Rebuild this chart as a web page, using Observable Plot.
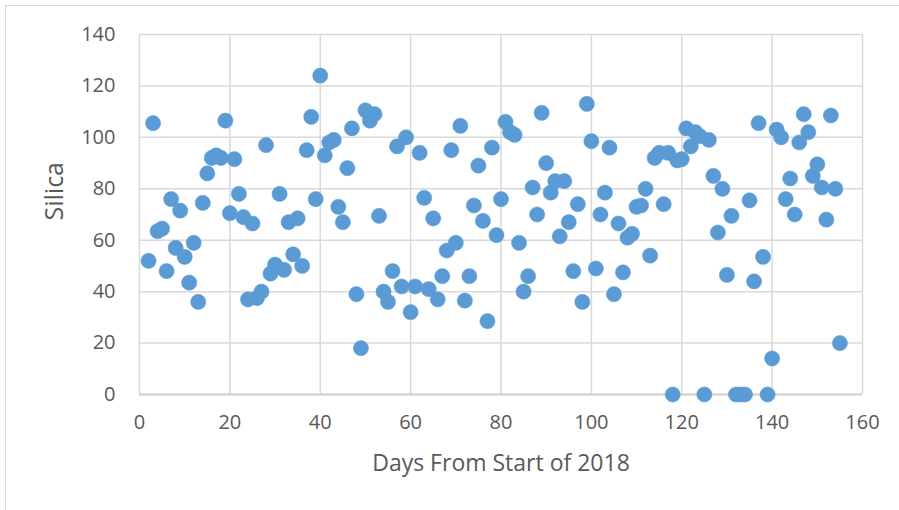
<!DOCTYPE html>
<html>
<head>
<meta charset="utf-8">
<script src="https://cdn.jsdelivr.net/npm/d3@7"></script>
<script src="https://cdn.jsdelivr.net/npm/@observablehq/plot@0.6"></script>
<style>
  html, body { margin: 0; padding: 0; background: #fff; overflow: hidden; }
  #wrap { position: relative; width: 899px; height: 510px; }
  #border { position: absolute; left: 5px; top: 5px; width: 910px; height: 520px; border: 1.5px solid #d9d9d9; box-sizing: border-box; }
  #chart { position: absolute; left: 0; top: 0; }
</style>
</head>
<body>
<div id="wrap"><div id="border"></div><div id="chart"></div></div>
<script>
const days = [2,3,4,5,6,7,8,9,10,11,12,13,14,15,16,17,18,19,20,21,22,23,24,25,26,27,28,29,30,31,32,33,34,35,36,37,38,39,40,41,42,43,44,45,46,47,48,49,50,51,52,53,54,55,56,57,58,59,60,61,62,63,64,65,66,67,68,69,70,71,72,73,74,75,76,77,78,79,80,81,82,83,84,85,86,87,88,89,90,91,92,93,94,95,96,97,98,99,100,101,102,103,104,105,106,107,108,109,110,111,112,113,114,115,116,117,118,119,120,121,122,123,124,125,126,127,128,129,130,131,132,133,134,135,136,137,138,139,140,141,142,143,144,145,146,147,148,149,150,151,152,153,154,155];
const silica = [52,105.5,63.5,64.5,48,76,57,71.5,53.5,43.5,59,36,74.5,86,92,93,92,106.5,70.5,91.5,78,69,37,66.5,37.5,40,97,47,50.5,78,48.5,67,54.5,68.5,50,95,108,76,124,93,98,99,73,67,88,103.5,39,18,110.5,106.5,109,69.5,40,36,48,96.5,42,100,32,42,94,76.5,41,68.5,37,46,56,95,59,104.5,36.5,46,73.5,89,67.5,28.5,96,62,76,106,102,101,59,40,46,80.5,70,109.5,90,78.5,83,61.5,83,67,48,74,36,113,98.5,49,70,78.5,96,39,66.5,47.5,61,62.5,73,73.5,80,54,92,94,74,94,0,91,91.5,103.5,96.5,102,100.5,0,99,85,63,80,46.5,69.5,0,0,0,75.5,44,105.5,53.5,0,14,103,100,76,84,70,98,109,102,85,89.5,80.5,68,108.5,80,20];
const xTicks = [0,20,40,60,80,100,120,140,160];
const yTicks = [0,20,40,60,80,100,120,140];
const xTitle = "Days From Start of 2018";
const yTitle = "Silica";

const data = days.map((d, i) => ({day: d, silica: silica[i]}));

const chart = Plot.plot({
  width: 899,
  height: 510,
  marginLeft: 139,
  marginRight: 37,
  marginTop: 34,
  marginBottom: 116,
  style: {fontFamily: "'Open Sans', sans-serif", color: "#595959", background: "transparent"},
  x: {domain: [0, 160]},
  y: {domain: [0, 140]},
  marks: [
    Plot.gridX(xTicks, {stroke: "#d9d9d9", strokeOpacity: 1, strokeWidth: 1.5}),
    Plot.gridY(yTicks, {stroke: "#d9d9d9", strokeOpacity: 1, strokeWidth: 1.5}),
    Plot.ruleY([0], {stroke: "#d0d0d0", strokeWidth: 2}),
    Plot.axisX(xTicks, {tickSize: 0, tickPadding: 20, fontSize: 20, label: null, fill: "#595959"}),
    Plot.axisY(yTicks, {tickSize: 0, tickPadding: 24, fontSize: 20, label: null, fill: "#595959"}),
    Plot.text([xTitle], {frameAnchor: "bottom", dy: 76, fontSize: 23, fill: "#595959", text: d => d}),
    Plot.text([yTitle], {frameAnchor: "left", dx: -85, dy: 6, rotate: -90, fontSize: 25, fill: "#595959", text: d => d}),
    Plot.dot(data, {x: "day", y: "silica", r: 7.6, fill: "#5b9bd5", stroke: "#5b9bd5", strokeWidth: 0.5})
  ]
});
document.getElementById("chart").appendChild(chart);
</script>
</body>
</html>
